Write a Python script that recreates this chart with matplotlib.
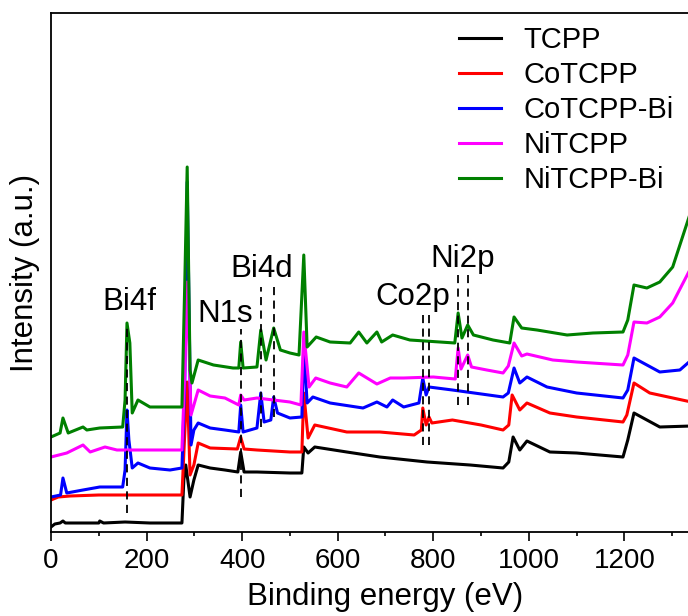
import matplotlib
matplotlib.use("Agg")
import matplotlib.pyplot as plt

plt.rcParams['font.family'] = ['Liberation Sans', 'DejaVu Sans']

labels = ["TCPP", "CoTCPP", "CoTCPP-Bi", "NiTCPP", "NiTCPP-Bi"]
colors = ["#000000", "#ff0000", "#0000ff", "#ff00ff", "#008000"]

# Binding energy (eV) / intensity (a.u., offset-stacked)
tcpp_x = [0, 8, 19, 25, 30, 40, 100, 102, 110, 155, 207, 274, 278, 282, 291, 299, 308, 333, 364,
          391, 397, 404, 431, 500, 525, 529, 538, 552, 619, 688, 787, 877, 946, 958, 967, 981, 996,
          1044, 1100, 1197, 1207, 1220, 1247, 1274, 1340]
tcpp_y = [5, 8, 9, 11, 9, 9, 9, 11, 9, 10, 9, 9, 52, 67, 35, 52, 67, 64, 62,
          60, 80, 60, 60, 59, 59, 85, 79, 85, 80, 75, 70, 67, 64, 70, 95, 82, 91,
          80, 79, 75, 92, 119, 112, 105, 106]

cotcpp_x = [0, 15, 40, 100, 200, 274, 281, 285, 291, 299, 308, 333, 390, 397, 404, 431, 500, 525,
            529, 538, 552, 619, 688, 760, 775, 778, 785, 791, 797, 840, 900, 946, 958, 965, 981,
            996, 1044, 1100, 1197, 1205, 1220, 1253, 1340]
cotcpp_y = [32, 35, 36, 37, 37, 37, 110, 150, 57, 67, 89, 84, 83, 95, 83, 82, 80, 80,
            139, 94, 107, 100, 100, 97, 102, 124, 107, 115, 109, 112, 107, 102, 107, 137, 122,
            129, 119, 115, 110, 117, 149, 139, 130]

cotcppbi_x = [0, 20, 25, 33, 67, 102, 150, 155, 159, 163, 170, 182, 207, 249, 274, 280, 285, 293,
              299, 308, 333, 364, 393, 397, 402, 431, 439, 446, 460, 466, 474, 500, 525, 529, 536,
              548, 584, 653, 682, 703, 715, 738, 770, 778, 785, 791, 840, 946, 957, 969, 981, 996,
              1038, 1100, 1197, 1207, 1220, 1247, 1274, 1316, 1340]
cotcppbi_y = [35, 37, 54, 39, 42, 45, 45, 62, 122, 92, 64, 69, 64, 62, 64, 150, 350, 87,
              102, 109, 104, 102, 100, 127, 100, 104, 139, 110, 112, 135, 119, 114, 115, 185, 129,
              135, 129, 124, 130, 125, 132, 125, 129, 154, 137, 145, 142, 135, 139, 164, 149, 155,
              145, 139, 134, 142, 174, 167, 160, 162, 172]

nitcpp_x = [0, 33, 67, 82, 113, 138, 207, 274, 280, 285, 293, 299, 308, 333, 364, 393, 397, 404,
            431, 500, 523, 529, 540, 554, 584, 619, 644, 682, 710, 738, 800, 846, 852, 858, 872,
            880, 912, 946, 957, 969, 985, 996, 1050, 1100, 1197, 1207, 1220, 1247, 1274, 1301,
            1340]
nitcpp_y = [75, 79, 87, 80, 85, 82, 82, 82, 160, 250, 117, 127, 142, 136, 134, 127, 137, 132,
            134, 130, 127, 200, 145, 154, 149, 145, 159, 148, 154, 154, 155, 153, 184, 163, 177,
            165, 162, 159, 166, 189, 176, 178, 172, 170, 167, 177, 210, 209, 215, 229,
            265]

nitcppbi_x = [0, 19, 25, 36, 67, 75, 102, 150, 155, 159, 165, 170, 182, 207, 249, 274, 280, 285,
              291, 295, 308, 340, 381, 393, 397, 402, 431, 439, 450, 466, 480, 500, 519, 529, 536,
              555, 584, 626, 644, 661, 682, 692, 715, 751, 845, 852, 860, 872, 884, 925, 960, 969,
              985, 1017, 1080, 1134, 1197, 1207, 1220, 1247, 1274, 1301, 1340]
nitcppbi_y = [95, 99, 114, 99, 105, 102, 104, 105, 132, 209, 189, 119, 132, 125, 125, 125, 250, 365,
              162, 149, 172, 167, 164, 164, 190, 164, 165, 202, 172, 204, 182, 179, 177, 277, 185,
              195, 190, 189, 200, 189, 200, 190, 197, 192, 189, 219, 194, 207, 197, 192, 189, 215,
              204, 202, 197, 199, 200, 212, 247, 244, 250, 265, 322]

series_x = [tcpp_x, cotcpp_x, cotcppbi_x, nitcpp_x, nitcppbi_x]
series_y = [tcpp_y, cotcpp_y, cotcppbi_y, nitcpp_y, nitcppbi_y]

# Peak annotations: label, label position, dashed-line energies and extent
peak_labels = ["Bi4f", "N1s", "Bi4d", "Co2p", "Ni2p"]
peak_label_x = [165, 364, 441, 757, 862]
peak_label_y = [222, 210, 255, 227, 265]
peak_lines_x = [[159], [397], [439, 466], [778, 791], [851, 872]]
peak_lines_lo = [[19], [35], [105, 115], [87, 87], [127, 127]]
peak_lines_hi = [[208], [203], [245, 245], [217, 217], [257, 257]]

xticks = [0, 200, 400, 600, 800, 1000, 1200]

fig = plt.figure(figsize=(6.88, 6.16), dpi=100)
ax = fig.add_axes([51 / 688, 84 / 616, 669 / 688, 519 / 616])

for xs, ys, c, lab in zip(series_x, series_y, colors, labels):
    ax.plot(xs, ys, color=c, lw=2.2, label=lab, solid_joinstyle='round')

for lab, lx, ly, lxs, los, his in zip(peak_labels, peak_label_x, peak_label_y,
                                       peak_lines_x, peak_lines_lo, peak_lines_hi):
    ax.text(lx, ly, lab, ha='center', va='baseline', fontsize=22.5, color='black')
    for xv, lo, hi in zip(lxs, los, his):
        ax.plot([xv, xv], [lo, hi], color='black', lw=1.3, ls=(0, (4.5, 3)))

ax.set_xlim(0, 1400)
ax.set_ylim(0, 519)
ax.set_xticks(xticks)
ax.set_xticks(range(100, 1400, 200), minor=True)
ax.set_yticks([])
ax.tick_params(axis='x', which='major', direction='out', length=6.5, width=1.2,
               labelsize=20, pad=5)
ax.tick_params(axis='x', which='minor', direction='out', length=3.2, width=1.2)
for s in ax.spines.values():
    s.set_linewidth(1.3)

ax.set_xlabel("Binding energy (eV)", fontsize=22.5, labelpad=6)
ax.set_ylabel("Intensity (a.u.)", fontsize=22.5, labelpad=8)

ax.legend(loc='upper left', bbox_to_anchor=(459 / 688, 1 - 26 / 616),
          bbox_transform=fig.transFigure, frameon=False, fontsize=21,
          handlelength=1.45, handletextpad=0.75, labelspacing=0.24,
          borderaxespad=0, borderpad=0)

fig.savefig("out.png", dpi=100)
